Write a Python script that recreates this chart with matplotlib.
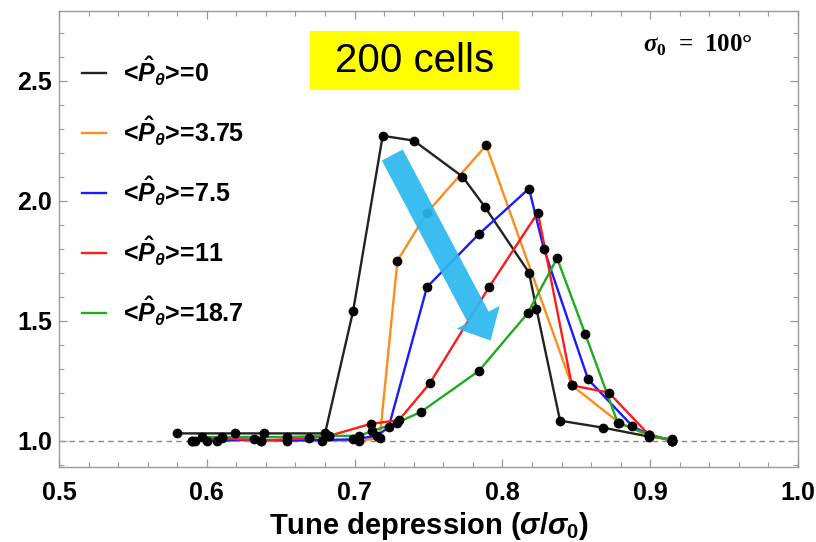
import matplotlib
matplotlib.use("Agg")
import matplotlib.pyplot as plt
from matplotlib.ticker import MultipleLocator, FormatStrFormatter
from matplotlib.patches import Rectangle

plt.rcParams['font.family'] = ['Liberation Sans', 'DejaVu Sans']
plt.rcParams['font.weight'] = 'bold'
plt.rcParams['axes.labelweight'] = 'bold'
plt.rcParams['mathtext.fontset'] = 'custom'
plt.rcParams['mathtext.rm'] = 'Liberation Sans:bold'
plt.rcParams['mathtext.it'] = 'Liberation Sans:bold:italic'
plt.rcParams['mathtext.bf'] = 'Liberation Sans:bold'
plt.rcParams['mathtext.sf'] = 'Liberation Serif:bold:italic'
plt.rcParams['mathtext.tt'] = 'Liberation Serif:bold'

# Peak growth vs tune depression for different mean angular momentum
p0_x = [0.580, 0.619, 0.639, 0.680, 0.699, 0.719, 0.740, 0.773, 0.788, 0.818, 0.823, 0.839, 0.868, 0.899, 0.915]
p0_y = [1.03, 1.03, 1.03, 1.03, 1.54, 2.27, 2.25, 2.10, 1.975, 1.70, 1.55, 1.083, 1.054, 1.017, 1.005]

p375_x = [0.590, 0.600, 0.637, 0.678, 0.703, 0.717, 0.729, 0.749, 0.789, 0.847, 0.879, 0.899, 0.915]
p375_y = [1.00, 1.00, 1.00, 1.00, 1.00, 1.01, 1.75, 1.95, 2.23, 1.23, 1.075, 1.02, 1.00]

p75_x = [0.592, 0.607, 0.632, 0.654, 0.699, 0.715, 0.723, 0.749, 0.784, 0.818, 0.828, 0.858, 0.888, 0.899, 0.915]
p75_y = [1.00, 1.00, 1.005, 1.00, 1.005, 1.02, 1.055, 1.64, 1.86, 2.05, 1.80, 1.255, 1.06, 1.025, 1.00]

p11_x = [0.590, 0.610, 0.637, 0.669, 0.683, 0.711, 0.730, 0.751, 0.791, 0.824, 0.847, 0.872, 0.899, 0.915]
p11_y = [1.00, 1.01, 1.00, 1.01, 1.02, 1.07, 1.085, 1.24, 1.64, 1.95, 1.23, 1.20, 1.025, 1.00]

p187_x = [0.597, 0.610, 0.654, 0.683, 0.703, 0.712, 0.729, 0.745, 0.784, 0.817, 0.837, 0.856, 0.878, 0.899, 0.915]
p187_y = [1.015, 1.015, 1.015, 1.02, 1.02, 1.04, 1.075, 1.12, 1.29, 1.53, 1.76, 1.445, 1.075, 1.025, 1.00]

labels = [r'<$\hat{P}_{\theta}$>=0', r'<$\hat{P}_{\theta}$>=3.75', r'<$\hat{P}_{\theta}$>=7.5',
          r'<$\hat{P}_{\theta}$>=11', r'<$\hat{P}_{\theta}$>=18.7']
colors = ['#222222', '#FF8C1A', '#1A1AFF', '#FF1A1A', '#1FAA1F']
xs = [p0_x, p375_x, p75_x, p11_x, p187_x]
ys = [p0_y, p375_y, p75_y, p11_y, p187_y]

x_ticks = [0.5, 0.6, 0.7, 0.8, 0.9, 1.0]
y_ticks = [1.0, 1.5, 2.0, 2.5]

fig = plt.figure(figsize=(8.16, 5.42), dpi=100)
ax = fig.add_axes([59/816, 1 - 467/542, 739/816, 456/542])
ax.set_xlim(0.5, 1.0)
ax.set_ylim(0.89, 2.79)

ax.axhline(1.0, color='#888888', lw=1.0, ls=(0, (4, 3)), zorder=1)

for x, y, c, lab in zip(xs, ys, colors, labels):
    ax.plot(x, y, color=c, lw=1.7, label=lab, zorder=2)
for x, y in zip(xs, ys):
    ax.plot(x, y, 'o', color='black', ms=6, zorder=3)

# Trend arrow
ax.annotate('', xy=(0.792, 1.417), xytext=(0.7255, 2.19),
            arrowprops=dict(arrowstyle='simple,head_length=1.9,head_width=3.5,tail_width=1.7',
                            mutation_scale=10, color='#2BB8EE', alpha=0.92, lw=0,
                            shrinkA=0, shrinkB=0), zorder=5)

# Title box
ax.add_patch(Rectangle((0.3397, 0.827), 0.2828, 0.129, transform=ax.transAxes,
                       facecolor='#FFFF00', edgecolor='none', zorder=6))
ax.text(0.481, 0.891, '200 cells', transform=ax.transAxes, ha='center', va='center',
        fontsize=29, fontweight='normal', zorder=7)

ax.text(0.865, 0.925, r'$\mathsf{\sigma}_\mathtt{0}\mathtt{\ =\ 100}$°', transform=ax.transAxes,
        ha='center', va='center', fontsize=18, family='Liberation Serif', fontweight='bold')

leg = ax.legend(loc='upper left', bbox_to_anchor=(0.031, 0.905), frameon=False,
                fontsize=18, handlelength=0.95, handletextpad=0.7, labelspacing=1.05,
                borderaxespad=0, borderpad=0)

ax.xaxis.set_minor_locator(MultipleLocator(0.02))
ax.yaxis.set_minor_locator(MultipleLocator(0.1))
ax.set_xticks(x_ticks)
ax.set_yticks(y_ticks)
ax.xaxis.set_major_formatter(FormatStrFormatter('%.1f'))
ax.yaxis.set_major_formatter(FormatStrFormatter('%.1f'))
ax.tick_params(which='both', direction='in', top=True, right=True, color='#999999')
ax.tick_params(which='major', length=6, width=0.9, labelsize=18)
ax.tick_params(which='minor', length=3.5, width=0.8)
ax.tick_params(axis='x', pad=10)
ax.tick_params(axis='y', pad=5)
for s in ax.spines.values():
    s.set_color('#999999')
    s.set_linewidth(1.0)

ax.set_xlabel(r'Tune depression ($\sigma/\sigma_0$)', fontsize=21, labelpad=4)

fig.savefig('out.png', dpi=100)
